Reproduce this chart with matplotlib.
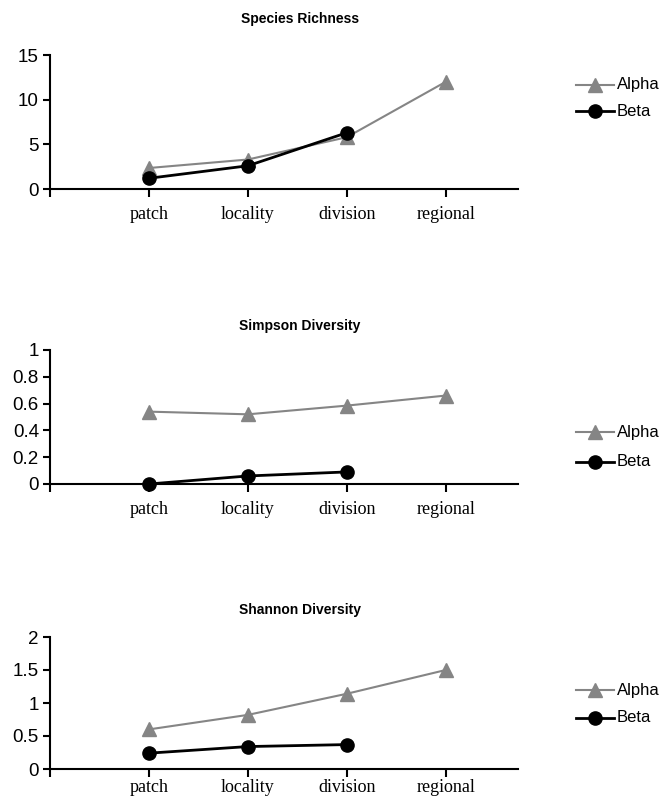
import matplotlib
matplotlib.use("Agg")
import matplotlib.pyplot as plt
from matplotlib.lines import Line2D

categories = ["patch", "locality", "division", "regional"]
titles = ["Species Richness", "Simpson Diversity", "Shannon Diversity"]

richness_alpha = [2.35, 3.3, 5.8, 12.0]
richness_beta = [1.2, 2.6, 6.3]
simpson_alpha = [0.54, 0.52, 0.585, 0.66]
simpson_beta = [0.0, 0.06, 0.09]
shannon_alpha = [0.6, 0.82, 1.14, 1.5]
shannon_beta = [0.24, 0.34, 0.37]

yticks_list = [[0, 5, 10, 15], [0, 0.2, 0.4, 0.6, 0.8, 1.0], [0, 0.5, 1.0, 1.5, 2.0]]
ytick_labels = [["0", "5", "10", "15"],
                ["0", "0.2", "0.4", "0.6", "0.8", "1"],
                ["0", "0.5", "1", "1.5", "2"]]
ylims = [(0, 15), (0, 1), (0, 2)]

W, H = 664, 798
fig = plt.figure(figsize=(W / 100, H / 100), dpi=100)

# pixel boxes: (left, right, top, bottom)
boxes = [(50, 518, 55, 189), (50, 518, 350, 484), (50, 518, 637, 769)]
title_y = [19, 326, 610]
legend_y = [(85, 111), (432, 462), (690, 718)]
xpads = [6, 6, 1]

alphas = [richness_alpha, simpson_alpha, shannon_alpha]
betas = [richness_beta, simpson_beta, shannon_beta]

gray = "#858585"
for i in range(3):
    l, r, t, b = boxes[i]
    ax = fig.add_axes([l / W, 1 - b / H, (r - l) / W, (b - t) / H])
    xa = list(range(1, len(alphas[i]) + 1))
    xb = list(range(1, len(betas[i]) + 1))
    ax.plot(xa, alphas[i], color=gray, lw=1.5, marker="^", ms=10,
            mfc=gray, mec=gray, clip_on=False, zorder=3)
    ax.plot(xb, betas[i], color="black", lw=2, marker="o", ms=9.5,
            mfc="black", mec="black", clip_on=False, zorder=4)
    ax.set_xlim(0, 4.73)
    ax.set_ylim(*ylims[i])
    ax.set_yticks(yticks_list[i])
    ax.set_yticklabels(ytick_labels[i], fontsize=13.5, family="Liberation Sans")
    ax.set_xticks([0, 1, 2, 3, 4])
    ax.set_xticklabels([""] + categories, fontsize=13, family="Liberation Serif")
    for s in ["top", "right"]:
        ax.spines[s].set_visible(False)
    for s in ["left", "bottom"]:
        ax.spines[s].set_linewidth(1.5)
        ax.spines[s].set_color("black")
    ax.tick_params(axis="y", direction="out", length=5, width=1.5, pad=3)
    ax.tick_params(axis="x", direction="out", length=6, width=1.5, pad=xpads[i])
    ax.patch.set_alpha(0)

    fig.text(300 / W, 1 - title_y[i] / H, titles[i], ha="center", va="center",
             fontsize=10, fontweight="bold", family="Liberation Sans")

    # legend
    for (lab, col, mk, ms, lw), yy in zip(
            [("Alpha", gray, "^", 10, 1.5), ("Beta", "black", "o", 9.5, 2)],
            legend_y[i]):
        yf = 1 - yy / H
        fig.add_artist(Line2D([576 / W, 614 / W], [yf, yf], color=col, lw=lw,
                              transform=fig.transFigure))
        fig.add_artist(Line2D([595 / W], [yf], color=col, marker=mk, ms=ms,
                              mfc=col, mec=col, transform=fig.transFigure))
        fig.text(617 / W, yf, lab, ha="left", va="center", fontsize=12,
                 family="Liberation Sans")

fig.savefig("out.png", dpi=100, facecolor="white")
